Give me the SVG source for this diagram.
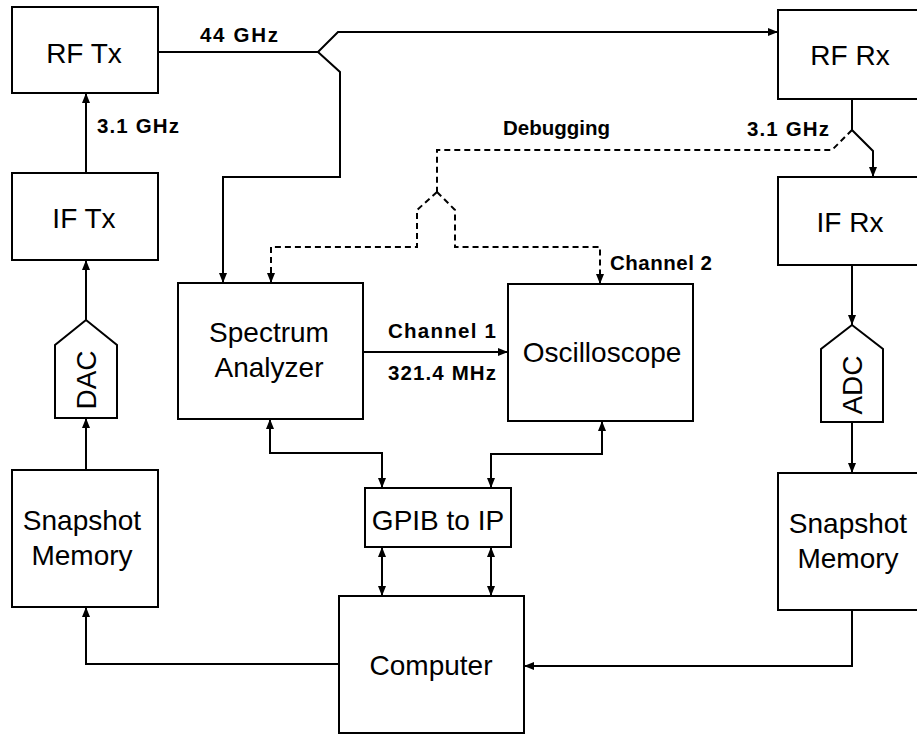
<svg xmlns="http://www.w3.org/2000/svg" width="917" height="736" viewBox="0 0 917 736">
<defs>
<marker id="ah" viewBox="0 0 10 8" refX="10" refY="4" markerWidth="10" markerHeight="8" markerUnits="userSpaceOnUse" orient="auto-start-reverse">
<path d="M0,0 L10,4 L0,8 z" fill="#000"/>
</marker>
<style>
.box{fill:#fff;stroke:#000;stroke-width:2}
.lbl{font-family:"Liberation Sans",Arial,sans-serif;font-size:28px;text-anchor:middle;fill:#000}
.sm{font-family:"Liberation Sans",Arial,sans-serif;font-size:20.5px;font-weight:bold;fill:#000}
.ln{fill:none;stroke:#000;stroke-width:2}
.dash{fill:none;stroke:#000;stroke-width:2;stroke-dasharray:6 4}
.arr{marker-end:url(#ah)}
.both{marker-start:url(#ah);marker-end:url(#ah)}
</style>
</defs>
<rect width="917" height="736" fill="#fff"/>
<g id="connectors">
<path class="ln arr" d="M158,52 H318 L338,32 H778"/>
<path class="ln arr" d="M318,52 L340,72 V177 H223 V283"/>
<path class="ln arr" d="M86,173 V93"/>
<path class="ln arr" d="M86,320 V260"/>
<path class="ln arr" d="M86,470 V418"/>
<path class="ln arr" d="M339,664 H86 V607"/>
<path class="ln arr" d="M852,99 V130 L873,151 V177"/>
<path class="dash" d="M852,130 L832,150 H437 V192"/>
<path class="dash arr" d="M437,192 L417,210 V247 H271 V283"/>
<path class="dash arr" d="M437,192 L455,210 V247 H600 V284"/>
<path class="ln arr" d="M363,352 H508"/>
<path class="ln both" d="M270,419 V453 H382 V488"/>
<path class="ln both" d="M602,421 V454 H491 V488"/>
<path class="ln both" d="M382,547 V596"/>
<path class="ln both" d="M491,547 V596"/>
<path class="ln arr" d="M852,265 V325"/>
<path class="ln arr" d="M852,422 V473"/>
<path class="ln arr" d="M852,610 V666 H524"/>
<text class="sm" x="200" y="42" textLength="78">44 GHz</text>
<text class="sm" x="97" y="133" textLength="82">3.1 GHz</text>
<text class="sm" x="503" y="135" textLength="107">Debugging</text>
<text class="sm" x="747" y="136" textLength="82">3.1 GHz</text>
<text class="sm" x="610" y="270" textLength="102">Channel 2</text>
<text class="sm" x="388" y="338" textLength="108">Channel 1</text>
<text class="sm" x="388" y="380" textLength="108">321.4 MHz</text>
</g>
<g id="rftx"><rect class="box" x="12" y="7" width="146" height="86"/><text class="lbl" x="84" y="63">RF Tx</text></g>
<g id="iftx"><rect class="box" x="12" y="173" width="146" height="87"/><text class="lbl" x="84" y="228">IF Tx</text></g>
<g id="dac"><polygon class="box" points="86,320 117,345 117,418 55,418 55,345"/><text class="lbl" transform="translate(96,380) rotate(-90)">DAC</text></g>
<g id="snapL"><rect class="box" x="12" y="470" width="146" height="137"/><text class="lbl" x="82" y="530">Snapshot</text><text class="lbl" x="82" y="565">Memory</text></g>
<g id="spec"><rect class="box" x="178" y="283" width="185" height="136"/><text class="lbl" x="269" y="342">Spectrum</text><text class="lbl" x="269" y="377">Analyzer</text></g>
<g id="osc"><rect class="box" x="508" y="284" width="185" height="137"/><text class="lbl" x="602" y="362">Oscilloscope</text></g>
<g id="gpib"><rect class="box" x="365" y="488" width="146" height="59"/><text class="lbl" x="438" y="530">GPIB to IP</text></g>
<g id="comp"><rect class="box" x="339" y="596" width="185" height="137"/><text class="lbl" x="431" y="675">Computer</text></g>
<g id="rfrx"><rect class="box" x="778" y="10" width="160" height="89"/><text class="lbl" x="850" y="65">RF Rx</text></g>
<g id="ifrx"><rect class="box" x="778" y="177" width="160" height="88"/><text class="lbl" x="850" y="232">IF Rx</text></g>
<g id="adc"><polygon class="box" points="852,325 883,349 883,422 821,422 821,349"/><text class="lbl" transform="translate(862,385) rotate(-90)">ADC</text></g>
<g id="snapR"><rect class="box" x="778" y="473" width="160" height="137"/><text class="lbl" x="848" y="533">Snapshot</text><text class="lbl" x="848" y="568">Memory</text></g>
</svg>
